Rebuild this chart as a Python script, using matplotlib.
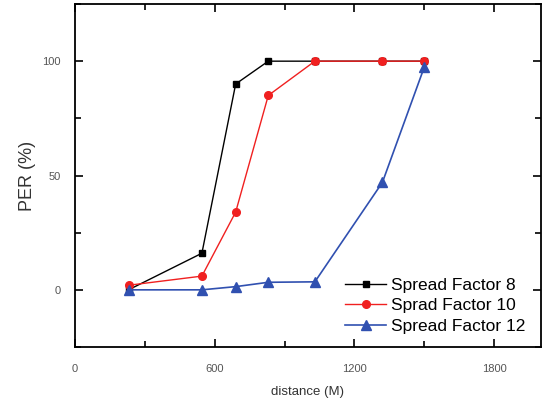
import numpy as np
import matplotlib.pyplot as plt
from matplotlib.ticker import MultipleLocator

plt.rcParams['font.family'] = ['Liberation Sans', 'DejaVu Sans']

# distance (M) and PER (%)
dist = [230, 545, 690, 830, 1030, 1320, 1500]
sf8 = [0, 16, 90, 100, 100, 100, 100]
sf10 = [2, 6, 34, 85, 100, 100, 100]
sf12 = [0, 0, 1.4, 3.3, 3.5, 47, 97.5]
labels = ['Spread Factor 8', 'Sprad Factor 10', 'Spread Factor 12']

fig = plt.figure(figsize=(5.43, 4.0), dpi=100)
ax = fig.add_axes([0.138, 0.1325, 0.858, 0.8575])

ax.plot(dist, sf8, color='black', marker='s', ms=5, lw=1, label=labels[0], zorder=2)
ax.plot(dist, sf10, color='#f02020', marker='o', ms=5.5, lw=1, label=labels[1], zorder=3)
ax.plot(dist, sf12, color='#3050b0', marker='^', ms=7, lw=1.2, label=labels[2], zorder=4)

ax.set_xlim(0, 2000)
ax.set_ylim(-25, 125)
ax.xaxis.set_major_locator(MultipleLocator(600))
ax.xaxis.set_minor_locator(MultipleLocator(300))
ax.yaxis.set_major_locator(MultipleLocator(50))
ax.yaxis.set_minor_locator(MultipleLocator(25))
ax.tick_params(which='both', direction='in', top=True, right=True, width=1.2,
               labelsize=8, labelcolor='#555555')
ax.tick_params(which='major', length=6)
ax.tick_params(axis='x', which='major', pad=12)
ax.tick_params(axis='y', which='major', pad=10)
ax.tick_params(which='minor', length=4)
for s in ax.spines.values():
    s.set_linewidth(1.3)

ax.set_xlabel('distance (M)', fontsize=9.5, color='#333333', labelpad=9)
ax.set_ylabel('PER (%)', fontsize=13, color='#333333', labelpad=5)

ax.legend(loc='lower right', bbox_to_anchor=(1.0, -0.008), frameon=False, fontsize=12.5,
          handlelength=2.4, handletextpad=0.25, labelspacing=0.32)

fig.savefig('out.png', dpi=100)
